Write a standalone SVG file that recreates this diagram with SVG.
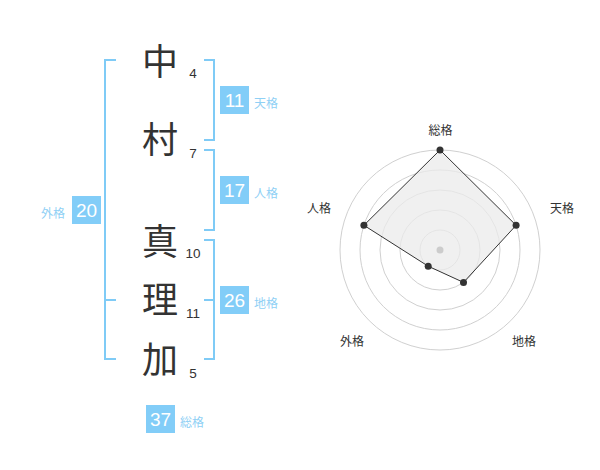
<svg xmlns="http://www.w3.org/2000/svg" width="600" height="470" viewBox="0 0 600 470">
<style>
.k{font-family:"Noto Sans CJK JP","Noto Sans CJK SC",sans-serif;font-size:36px;fill:#333;text-anchor:middle}
.n{font-family:"Liberation Sans",Arial,sans-serif;font-size:13.5px;fill:#333;text-anchor:middle}
.br{fill:none;stroke:#7fcbf6;stroke-width:2}
.bx{fill:#82cdf8}
.bn{font-family:"Liberation Sans",Arial,sans-serif;font-size:19px;fill:#fff;text-anchor:middle}
.lb{font-family:"Noto Sans CJK JP","Noto Sans CJK SC",sans-serif;font-size:12px;fill:#8fd0f5;text-anchor:middle}
.ring{fill:none;stroke:#d0d0d0;stroke-width:1}
.rl{font-family:"Noto Sans CJK JP","Noto Sans CJK SC",sans-serif;font-size:12px;fill:#333;text-anchor:middle}
.pt{fill:#333}
</style>
<rect width="600" height="470" fill="#fff"/>
<g id="connectors">
<path class="br" d="M116,60 H105 V359 H116 M105,300 H116"/>
<path class="br" d="M204,60 H214 V140 H204"/>
<path class="br" d="M204,150 H214 V230 H204"/>
<path class="br" d="M204,240 H214 V359 H204 M204,300 H214"/>
</g>
<g id="char-naka"><text class="k" x="160" y="75">中</text><text class="n" x="193" y="78">4</text></g>
<g id="char-mura"><text class="k" x="160" y="153">村</text><text class="n" x="193" y="158">7</text></g>
<g id="char-ma"><text class="k" x="160" y="255">真</text><text class="n" x="193" y="258">10</text></g>
<g id="char-ri"><text class="k" x="160" y="313">理</text><text class="n" x="193" y="318">11</text></g>
<g id="char-ka"><text class="k" x="160" y="373">加</text><text class="n" x="193" y="378">5</text></g>
<g id="tenkaku"><rect class="bx" x="220" y="86" width="29" height="28"/><text class="bn" x="234.5" y="107">11</text><text class="lb" x="266" y="108">天格</text></g>
<g id="jinkaku"><rect class="bx" x="220" y="176" width="29" height="28"/><text class="bn" x="234.5" y="197">17</text><text class="lb" x="266" y="198">人格</text></g>
<g id="chikaku"><rect class="bx" x="220" y="286" width="29" height="28"/><text class="bn" x="234.5" y="307">26</text><text class="lb" x="266" y="308">地格</text></g>
<g id="gaikaku"><rect class="bx" x="72" y="196" width="29" height="28"/><text class="bn" x="86.5" y="217">20</text><text class="lb" x="53" y="218">外格</text></g>
<g id="soukaku"><rect class="bx" x="146" y="405" width="29" height="28"/><text class="bn" x="160.5" y="426">37</text><text class="lb" x="192" y="427">総格</text></g>
<g id="radar">
<circle class="ring" cx="440" cy="250" r="20"/>
<circle class="ring" cx="440" cy="250" r="40"/>
<circle class="ring" cx="440" cy="250" r="60"/>
<circle class="ring" cx="440" cy="250" r="80"/>
<circle class="ring" cx="440" cy="250" r="100"/>
<polygon points="440,150 516.1,225.3 463.5,282.4 428.2,266.2 363.9,225.3" fill="#ebebeb" fill-opacity="0.75" stroke="#333" stroke-width="1"/>
<circle cx="440" cy="250" r="3.5" fill="#ccc"/>
<circle class="pt" cx="440" cy="150" r="3.5"/>
<circle class="pt" cx="516.1" cy="225.3" r="3.5"/>
<circle class="pt" cx="463.5" cy="282.4" r="3.5"/>
<circle class="pt" cx="428.2" cy="266.2" r="3.5"/>
<circle class="pt" cx="363.9" cy="225.3" r="3.5"/>
<text class="rl" x="440.5" y="135">総格</text>
<text class="rl" x="562" y="213">天格</text>
<text class="rl" x="524" y="346">地格</text>
<text class="rl" x="352" y="346">外格</text>
<text class="rl" x="319" y="213">人格</text>
</g>
</svg>
